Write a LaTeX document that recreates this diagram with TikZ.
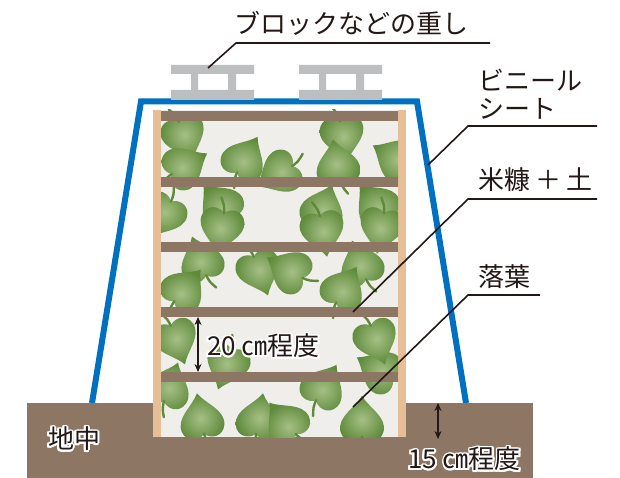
\documentclass[tikz,border=0pt]{standalone}
\usepackage{fontspec}
\setmainfont{Noto Sans CJK JP}
\usepackage{contour}
\contourlength{1.8pt}
\usetikzlibrary{arrows.meta}
\definecolor{soil}{HTML}{8E7664}
\definecolor{post}{HTML}{E6BF98}
\definecolor{binbg}{HTML}{EFEEEA}
\definecolor{sheet}{HTML}{0070C0}
\definecolor{weight}{HTML}{BDBEC0}
\definecolor{ink}{HTML}{231815}
\definecolor{leafdark}{HTML}{5E8A3A}
\definecolor{leaflight}{HTML}{A6C086}

\begin{document}
\begin{tikzpicture}[x=1pt,y=-1pt,font=\fontsize{26}{28}\selectfont,
  lbl/.style={anchor=west,inner sep=0pt,text=ink},
  lead/.style={ink,line width=1.6pt},
  dim/.style={{Stealth[length=8pt,width=7pt]}-{Stealth[length=8pt,width=7pt]},ink,line width=1.6pt},
  block/.pic={
    \fill[weight] (0,0) rectangle (83,9) (0,25) rectangle (83,35)
                  (20,9) rectangle (27,25) (57,9) rectangle (65,25);
  },
  leaf/.pic={
    \shade[inner color=leaflight,outer color=leafdark]
      (0,-27) .. controls (6,-16) and (23,-8) .. (20,6)
      .. controls (17,17) and (5,17) .. (0,11)
      .. controls (-5,17) and (-17,17) .. (-20,6)
      .. controls (-23,-8) and (-6,-16) .. (0,-27);
    \draw[leafdark,line width=2.4pt,line cap=round] (0,11) .. controls (1,18) .. (5,25);
  }]
\useasboundingbox (0,0) rectangle (620,478);

% vinyl sheet over the bin
\draw[sheet,line width=6pt,line join=miter] (92,403) -- (141,101.5) -- (417,101.5) -- (466,403);
\pic at (171,65) {block};
\pic at (299,65) {block};

% ground
\fill[soil] (27,403) rectangle (533,478);

% bin: posts, leaf layers, slats
\fill[post] (153,110) rectangle (161,437);
\fill[post] (398,110) rectangle (406,437);
\fill[binbg] (161,110) rectangle (398,437);
\begin{scope}
  \clip (161,110) rectangle (398,437);
  \foreach \x/\y/\r in {183/133/200,182/168/-60,243/162/-30,222/207/40,165/212/150,
    342/133/190,338/168/10,398/160/60,282/172/120,322/212/-20,378/207/40,
    222/225/170,202/264/20,182/292/-40,258/268/200,
    322/228/190,382/225/170,292/272/60,362/268/20,342/292/-30,
    175/337/200,228/362/160,168/390/-20,202/422/10,258/422/-10,
    322/390/-30,382/372/60,362/425/0,288/425/40,375/337/200}
    \pic[rotate=\r,scale=1.08] at (\x,\y) {leaf};
\end{scope}
\foreach \y in {111,177,242,307,372}
  \fill[soil] (161,\y) rectangle (398,{\y+10});

% leaders and labels
\node[lbl] (wlabel) at (234,23) {ブロックなどの重し};
\coordinate (wtip) at (208,68);
\coordinate (wknee) at (236,43);
\coordinate (wend) at (490,43);
\draw[lead] (wtip) -- (wknee) -- (wend);

\node[lbl,align=left] (slabel) at (478,94) {ビニール\\シート};
\coordinate (stip) at (428,165);
\coordinate (sknee) at (468,126);
\coordinate (send) at (597,126);
\draw[lead] (stip) -- (sknee) -- (send);

\node[lbl] (blabel) at (478,180) {米糠\hspace{5pt}＋\hspace{5pt}土};
\coordinate (btip) at (353,312);
\coordinate (bknee) at (468,199);
\coordinate (bend) at (597,199);
\draw[lead] (btip) -- (bknee) -- (bend);

\node[lbl] (llabel) at (478,277) {落葉};
\coordinate (ltip) at (353,407);
\coordinate (lknee) at (468,295);
\coordinate (lend) at (540,295);
\draw[lead] (ltip) -- (lknee) -- (lend);

% spacing marks (white halo round the text)
\coordinate (d20a) at (198,317);
\coordinate (d20b) at (198,372);
\draw[dim] (d20a) -- (d20b);
\node[lbl] (d20) at (207,347) {\contour{white}{20 ㎝程度}};
\coordinate (d15a) at (438,403);
\coordinate (d15b) at (438,439);
\draw[dim] (d15a) -- (d15b);
\node[lbl] (d15) at (408,460) {\contour{white}{15 ㎝程度}};
\node[lbl] (under) at (48,440) {\contour{white}{地中}};
\end{tikzpicture}
\end{document}
